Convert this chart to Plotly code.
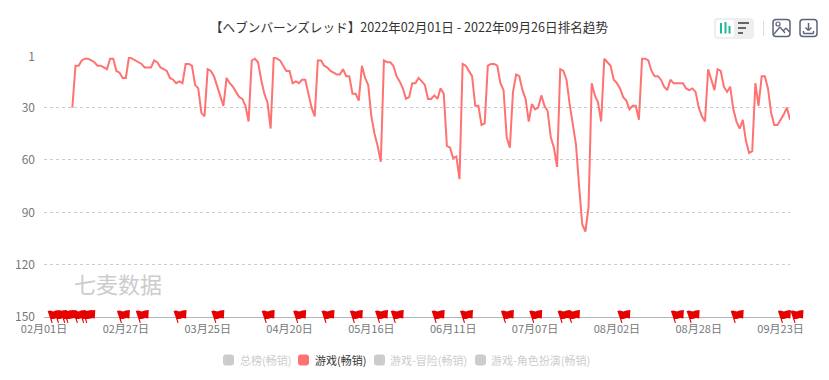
import pandas as pd
import plotly.graph_objects as go

title_text = "【ヘブンバーンズレッド】2022年02月01日 - 2022年09月26日排名趋势"
first_day = "2022-02-10"
last_day = "2022-09-26"
axis_start = "2022-02-01"

ranks = [
    30, 6, 6, 3, 2, 2, 3, 4, 6, 6, 7, 8, 2, 2, 9, 10, 13, 13, 1, 2, 3, 4, 5, 7, 7, 7, 3, 4, 7, 8,
    9, 13, 14, 16, 15, 16, 5, 5, 6, 17, 19, 33, 35, 8, 9, 12, 18, 24, 29, 13, 16, 18, 21, 24, 25,
    29, 38, 3, 2, 4, 14, 22, 27, 42, 1, 2, 3,
    6, 9, 9, 16, 15, 16, 14, 14, 22, 30, 35, 3, 3, 6, 7, 9, 10, 11, 11, 8, 12, 12, 22, 22, 26, 6,
    13, 17, 35, 45, 52, 61, 3, 4, 4, 6, 12, 15, 19, 25, 24, 16, 16, 13, 15, 17, 25, 25, 23, 25,
    19, 22, 52, 53, 59, 58, 71, 5, 6, 9, 12, 29, 29, 40, 39, 6, 5, 5, 6, 16, 20, 47, 53, 21, 11,
    12, 20, 25, 38, 28, 31, 30, 23, 29, 32, 47,
    53, 64, 8, 9, 14, 28, 40, 51, 75, 97, 101, 87, 16, 23, 27, 38, 2, 4, 6, 14, 16, 19, 24, 26,
    31, 29, 29, 37, 2, 2, 3, 9, 12, 12, 14, 18, 20, 14, 16, 16, 16, 16, 19, 20, 19, 21, 30, 35,
    38, 8, 14, 20, 8, 9, 18, 21, 18, 31, 38, 42, 37, 49, 56, 55, 16, 29, 12, 12, 19, 33, 40, 40,
    37, 34, 30, 37,
]

y_ticks = [1, 30, 60, 90, 120, 150]
x_tick_dates = ["2022-02-01", "2022-02-27", "2022-03-25", "2022-04-20", "2022-05-16", "2022-06-11",
                "2022-07-07", "2022-08-02", "2022-08-28", "2022-09-23"]
x_tick_labels = ["02月01日", "02月27日", "03月25日", "04月20日", "05月16日", "06月11日",
                 "07月07日", "08月02日", "08月28日", "09月23日"]
flag_dates = ["2022-02-02", "2022-02-04", "2022-02-06", "2022-02-07", "2022-02-10", "2022-02-12",
              "2022-02-13", "2022-02-24", "2022-03-02", "2022-03-14", "2022-03-26", "2022-04-11",
              "2022-04-21", "2022-04-30", "2022-05-09", "2022-05-17", "2022-05-22", "2022-06-04",
              "2022-06-13", "2022-06-26", "2022-07-05", "2022-07-14", "2022-07-17", "2022-08-02",
              "2022-08-19", "2022-08-24", "2022-09-07", "2022-09-22", "2022-09-26"]
legend_names = ["总榜(畅销)", "游戏(畅销)", "游戏-冒险(畅销)", "游戏-角色扮演(畅销)"]

FONT = "Noto Sans CJK SC"
LINE = "#ff7272"
dates = pd.date_range(first_day, periods=len(ranks))

# Plot box in page pixels
L, R, T, B = 44, 790, 57, 317
def fx(x): return (x - L) / (R - L)
def fy(y): return (B - y) / (B - T)
t0 = pd.Timestamp(axis_start); t1 = pd.Timestamp(last_day)
def day_frac(d): return (pd.Timestamp(d) - t0) / (t1 - t0)

fig = go.Figure()
fig.add_trace(go.Scatter(x=dates, y=ranks, mode="lines", name=legend_names[1],
                         line=dict(color=LINE, width=2), cliponaxis=False, showlegend=False))

shapes = [dict(type="rect", xref="paper", yref="paper", x0=0, x1=1, y0=fy(318), y1=fy(317),
               fillcolor="#b4b4bc", line=dict(width=0), layer="above")]
flag_path = ("M 0.5 6 L 3 6.5 L 6.5 5.5 L 9.5 6.5 L 13.5 7 L 13 -1.5 L 10 -1 L 6.5 -2 L 4.5 -2 "
             "L 5.5 -6 L 4.5 -6 Z")
for d in flag_dates:
    shapes.append(dict(type="path", xref="paper", yref="paper", xsizemode="pixel", ysizemode="pixel",
                       xanchor=day_frac(d), yanchor=0, path=flag_path,
                       fillcolor="#e60000", line=dict(width=0), layer="above"))

def rrect(x0, y0, x1, y1, fill=None, stroke=None, w=1.5, r=2):
    w_, h_ = x1 - x0, y1 - y0
    p = (f"M {r} 0 L {w_-r} 0 Q {w_} 0 {w_} {-r} L {w_} {-h_+r} Q {w_} {-h_} {w_-r} {-h_} "
         f"L {r} {-h_} Q 0 {-h_} 0 {-h_+r} L 0 {-r} Q 0 0 {r} 0 Z")
    shapes.append(dict(type="path", xref="paper", yref="paper", xsizemode="pixel", ysizemode="pixel",
                       xanchor=fx(x0), yanchor=fy(y0), path=p, fillcolor=fill or "rgba(0,0,0,0)",
                       line=dict(color=stroke or "rgba(0,0,0,0)", width=w if stroke else 0)))

def seg(x0, y0, x1, y1, color, w=1.5):
    shapes.append(dict(type="line", xref="paper", yref="paper", x0=fx(x0), x1=fx(x1), y0=fy(y0), y1=fy(y1),
                       line=dict(color=color, width=w)))

# Toolbar
rrect(714, 18, 754, 39, fill="#eeeeee", r=4)
rrect(716, 20, 734, 37, fill="#ffffff", r=3)
for x, ya, col in [(721, 23, "#1fb89a"), (725.5, 22, "#1fb89a"), (729.5, 26, "#1fb89a")]:
    seg(x, ya, x, 33.5, col, 2)
for ya, xb in [(23, 749), (28, 746), (33, 743)]:
    seg(738, ya, xb, ya, "#666666", 2)
seg(763.5, 21, 763.5, 36, "#dddddd", 1)
rrect(773, 19.5, 790, 36.5, stroke="#5a6478", r=3)
rrect(776, 22, 780, 26, stroke="#5a6478", w=1.2, r=2)
seg(774, 34, 780, 27, "#5a6478", 1.3); seg(780, 27, 785, 33, "#5a6478", 1.3)
seg(783, 31, 786, 28, "#5a6478", 1.3); seg(786, 28, 789.5, 32, "#5a6478", 1.3)
rrect(800, 19.5, 817, 36.5, stroke="#5a6478", r=3)
seg(808.5, 23, 808.5, 30, "#5a6478", 1.5); seg(805.5, 27.5, 808.5, 30.5, "#5a6478", 1.5)
seg(811.5, 27.5, 808.5, 30.5, "#5a6478", 1.5); seg(803.5, 31, 803.5, 33.5, "#5a6478", 1.5)
seg(803.5, 33.5, 813.5, 33.5, "#5a6478", 1.5); seg(813.5, 33.5, 813.5, 31, "#5a6478", 1.5)

# Legend
legend_layout = [(223, 238, "#cccccc", "#cccccc"), (298, 313, LINE, "#333333"),
                 (374, 388, "#cccccc", "#cccccc"), (475, 489, "#cccccc", "#cccccc")]
annotations = []
for name, (sx, tx, sc, tc) in zip(legend_names, legend_layout):
    rrect(sx, 354.5, sx + 11, 365.5, fill=sc, r=3)
    annotations.append(dict(text=name, xref="paper", yref="paper", x=fx(tx), y=fy(360), xanchor="left",
                            yanchor="middle", showarrow=False, font=dict(family=FONT, size=11, color=tc)))

annotations.append(dict(text=title_text, xref="paper", yref="paper", x=fx(409), y=fy(26.5), xanchor="center",
                        yanchor="middle", showarrow=False, font=dict(family=FONT, size=12.6, color="#333333")))
annotations.append(dict(text="七麦数据", xref="paper", yref="paper", x=fx(72), y=fy(283), xanchor="left",
                        yanchor="middle", showarrow=False, font=dict(family=FONT, size=22, color="#cccccc")))

fig.update_layout(
    width=829, height=380, autosize=False, showlegend=False,
    margin=dict(l=L, r=829 - R, t=T, b=380 - B, pad=0),
    paper_bgcolor="white", plot_bgcolor="white",
    font=dict(family=FONT, size=12, color="#666666"),
    shapes=shapes, annotations=annotations,
    xaxis=dict(type="date", range=[axis_start, last_day], tickmode="array", tickvals=x_tick_dates,
               ticktext=x_tick_labels, showgrid=False, zeroline=False, ticks="", tickangle=0,
               showline=False, ticklabelstandoff=4, tickfont=dict(family=FONT, size=11, color="#777777")),
    yaxis=dict(range=[150, 1], tickmode="array", tickvals=y_ticks, ticktext=[str(v) for v in y_ticks],
               showgrid=True, gridcolor="#cccccc", griddash="3px,3px", gridwidth=1, zeroline=False,
               ticks="", ticklabelstandoff=8, showline=False,
               tickfont=dict(family=FONT, size=12, color="#777777")),
)
fig.write_html("out.html", config={"displayModeBar": False},
               post_script="document.body.style.margin='0';")
